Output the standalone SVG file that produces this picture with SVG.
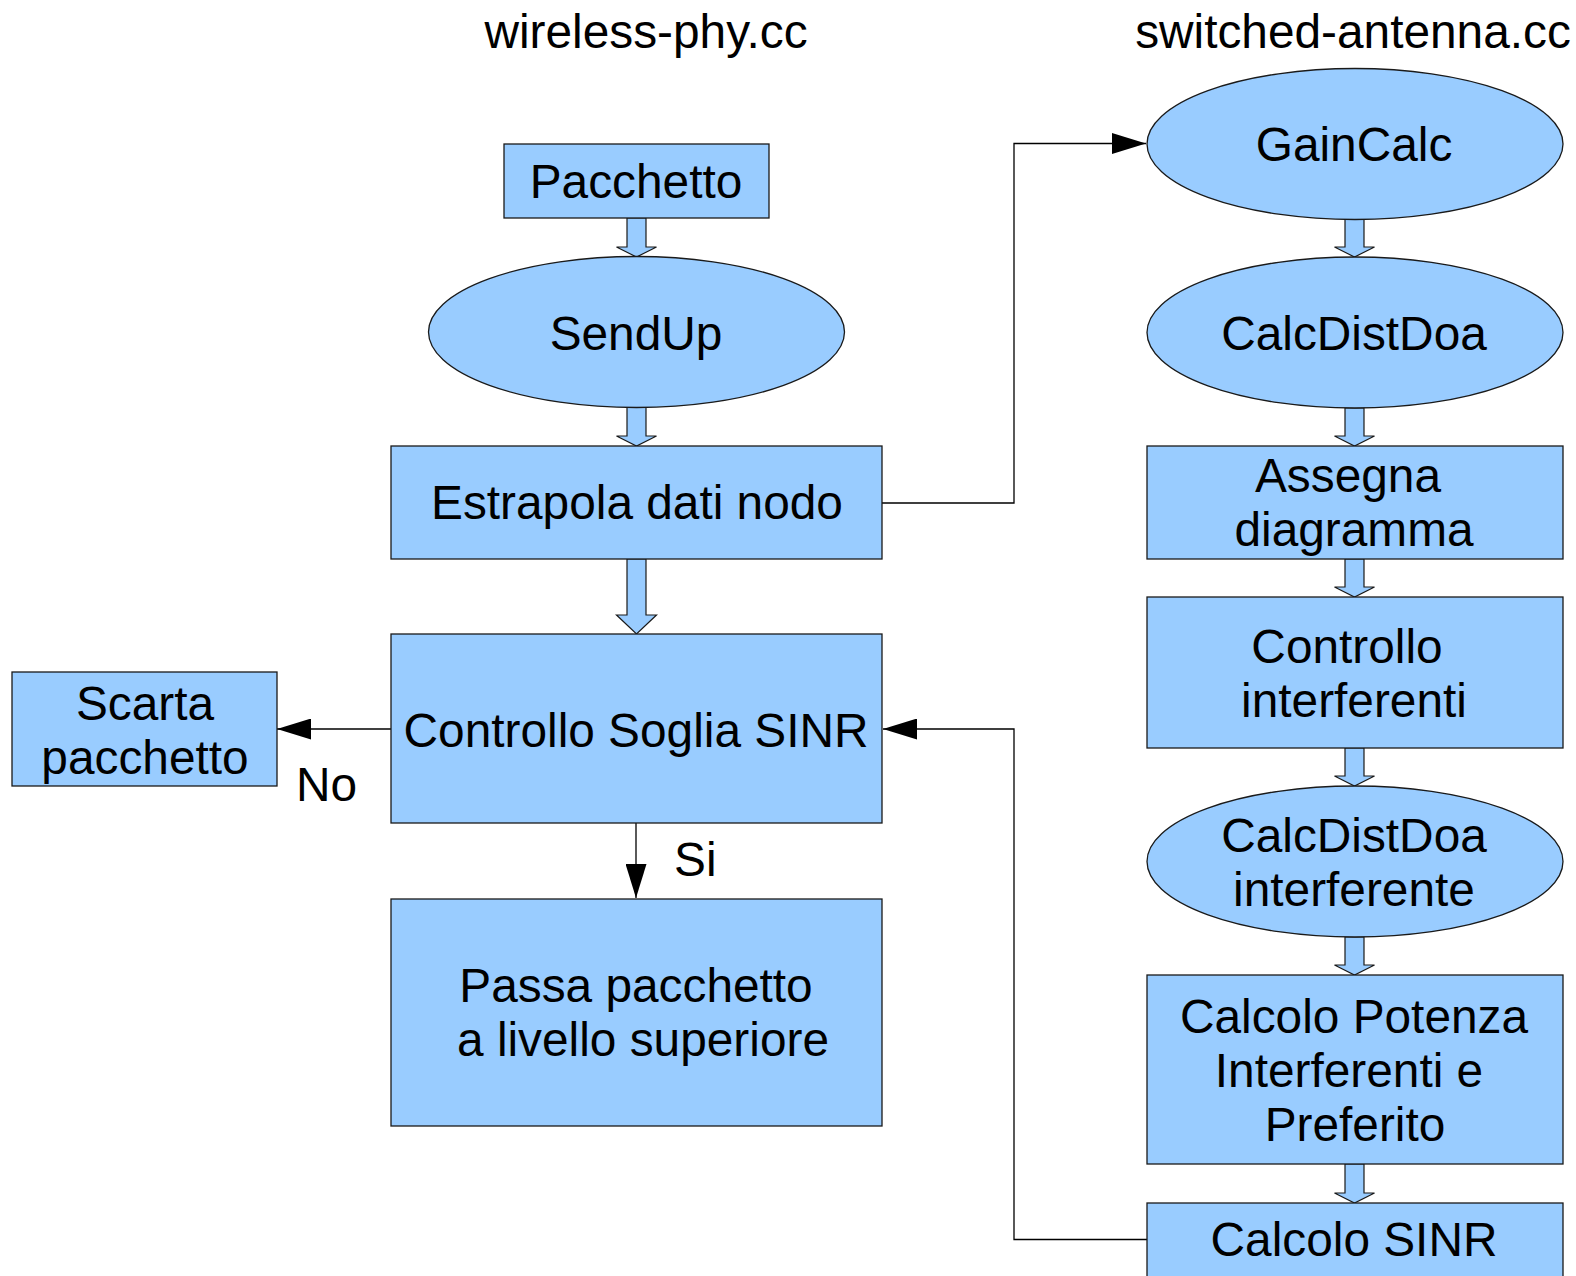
<svg xmlns="http://www.w3.org/2000/svg" width="1576" height="1276" viewBox="0 0 1576 1276">
  <defs>
    <style>
      .box { fill: #99ccff; stroke: #1a1a1a; stroke-width: 1.3; }
      .barrow { fill: #99ccff; stroke: #1a1a1a; stroke-width: 1.2; stroke-linejoin: miter; }
      .label { font-family: "Liberation Sans", Arial, sans-serif; font-size: 47.8px; fill: #000; text-anchor: middle; }
      .note { font-family: "Liberation Sans", Arial, sans-serif; font-size: 47.8px; fill: #000; }
      .wire { fill: none; stroke: #000; stroke-width: 1.3; }
    </style>
    <marker id="head" viewBox="0 0 34 21" refX="34" refY="10.5" markerWidth="34" markerHeight="21" markerUnits="userSpaceOnUse" orient="auto">
      <path d="M0,0 L34,10.5 L0,21 Z" fill="#000"/>
    </marker>
  </defs>

  <rect width="1576" height="1276" fill="#fff"/>

  <!-- column titles -->
  <text class="label" x="646" y="48">wireless-phy.cc</text>
  <text class="label" x="1353" y="48">switched-antenna.cc</text>

  <!-- block arrows between consecutive steps -->
  <g id="flow-arrows">
    <path class="barrow" d="M627,218 H646 V247 H656.5 L636.5,257 L616.5,247 H627 Z"/>
    <path class="barrow" d="M627,407.5 H646 V436 H656.5 L636.5,446 L616.5,436 H627 Z"/>
    <path class="barrow" d="M627,559 H646 V615 H656.5 L636.5,634 L616.5,615 H627 Z"/>
    <path class="barrow" d="M1345,219.5 H1364 V247 H1374.5 L1354.5,257 L1334.5,247 H1345 Z"/>
    <path class="barrow" d="M1345,408 H1364 V436 H1374.5 L1354.5,446 L1334.5,436 H1345 Z"/>
    <path class="barrow" d="M1345,559 H1364 V587 H1374.5 L1354.5,597 L1334.5,587 H1345 Z"/>
    <path class="barrow" d="M1345,748 H1364 V776 H1374.5 L1354.5,786 L1334.5,776 H1345 Z"/>
    <path class="barrow" d="M1345,937 H1364 V965 H1374.5 L1354.5,975 L1334.5,965 H1345 Z"/>
    <path class="barrow" d="M1345,1164 H1364 V1193 H1374.5 L1354.5,1203 L1334.5,1193 H1345 Z"/>
  </g>

  <!-- line connectors -->
  <g id="connectors">
    <path class="wire" d="M882,503 H1014 V143.5 H1146" marker-end="url(#head)"/>
    <path class="wire" d="M1147,1239.5 H1014 V729 H883" marker-end="url(#head)"/>
    <path class="wire" d="M391,729 H277" marker-end="url(#head)"/>
    <path class="wire" d="M636,823 V898" marker-end="url(#head)"/>
  </g>
  <text class="note" x="296" y="801">No</text>
  <text class="note" x="674" y="876">Si</text>

  <!-- wireless-phy.cc side -->
  <g id="pacchetto">
    <rect class="box" x="504" y="144" width="265" height="74"/>
    <text class="label" x="636" y="198">Pacchetto</text>
  </g>
  <g id="sendup">
    <ellipse class="box" cx="636.5" cy="332" rx="208" ry="75.5"/>
    <text class="label" x="636" y="350">SendUp</text>
  </g>
  <g id="estrapola">
    <rect class="box" x="391" y="446" width="491" height="113"/>
    <text class="label" x="637" y="519">Estrapola dati nodo</text>
  </g>
  <g id="controllo-sinr">
    <rect class="box" x="391" y="634" width="491" height="189"/>
    <text class="label" x="636" y="747">Controllo Soglia SINR</text>
  </g>
  <g id="scarta">
    <rect class="box" x="12" y="672" width="265" height="114"/>
    <text class="label" x="145" y="720">Scarta</text>
    <text class="label" x="145" y="774">pacchetto</text>
  </g>
  <g id="passa">
    <rect class="box" x="391" y="899" width="491" height="227"/>
    <text class="label" x="636" y="1002">Passa pacchetto</text>
    <text class="label" x="643" y="1056">a livello superiore</text>
  </g>

  <!-- switched-antenna.cc side -->
  <g id="gaincalc">
    <ellipse class="box" cx="1355" cy="144" rx="208" ry="75.5"/>
    <text class="label" x="1354" y="161">GainCalc</text>
  </g>
  <g id="calcdistdoa">
    <ellipse class="box" cx="1355" cy="332.5" rx="208" ry="75.5"/>
    <text class="label" x="1354" y="350">CalcDistDoa</text>
  </g>
  <g id="assegna">
    <rect class="box" x="1147" y="446" width="416" height="113"/>
    <text class="label" x="1348" y="492">Assegna</text>
    <text class="label" x="1354" y="546">diagramma</text>
  </g>
  <g id="controllo-int">
    <rect class="box" x="1147" y="597" width="416" height="151"/>
    <text class="label" x="1347" y="663">Controllo</text>
    <text class="label" x="1354" y="717">interferenti</text>
  </g>
  <g id="calcdistdoa-int">
    <ellipse class="box" cx="1355" cy="861.5" rx="208" ry="75.5"/>
    <text class="label" x="1354" y="852">CalcDistDoa</text>
    <text class="label" x="1354" y="906">interferente</text>
  </g>
  <g id="calcolo-potenza">
    <rect class="box" x="1147" y="975" width="416" height="189"/>
    <text class="label" x="1354" y="1033">Calcolo Potenza</text>
    <text class="label" x="1349" y="1087">Interferenti e</text>
    <text class="label" x="1355" y="1141">Preferito</text>
  </g>
  <g id="calcolo-sinr">
    <rect class="box" x="1147" y="1203" width="416" height="90"/>
    <text class="label" x="1354" y="1256">Calcolo SINR</text>
  </g>
</svg>
